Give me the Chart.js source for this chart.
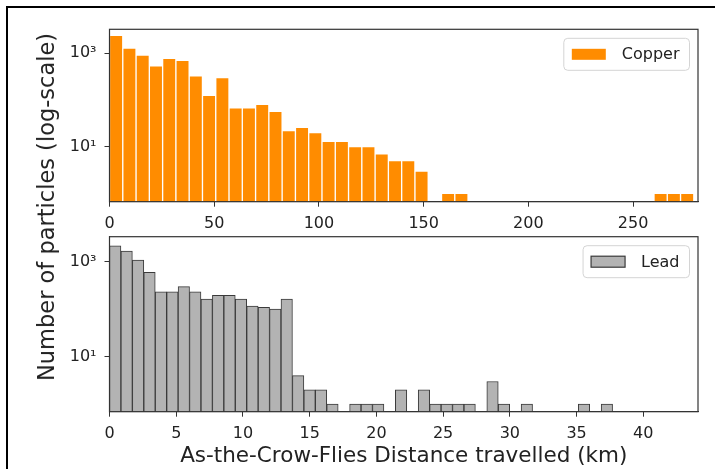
<!DOCTYPE html>
<html><head><meta charset="utf-8">
<script src="https://cdn.jsdelivr.net/npm/chart.js@4.4.1/dist/chart.umd.min.js"></script>
<style>
html,body{margin:0;padding:0;background:#fff;overflow:hidden;width:715px;height:469px;}
#frame{position:absolute;left:6px;top:6px;width:800px;height:600px;border:2px solid #000;box-sizing:border-box;}
canvas{position:absolute;left:0;top:0;}
#ytitle{position:absolute;left:46px;top:207px;transform:translate(-50%,-50%) rotate(-90deg);font:22.5px "DejaVu Sans";color:#222;white-space:nowrap;}
</style></head><body>
<div id="frame"></div>
<canvas id="c1" width="715" height="469"></canvas>
<canvas id="c2" width="715" height="469"></canvas>
<div id="ytitle">Number of particles (log-scale)</div>
<script>
// ---- data ----
const copperBinWidth = 6.341;   // km per bin (44 bins, 0..279)
const copperCounts = [2430,1300,920,542,782,708,327,126,300,68,68,81,57,22,26,20,13,13,10,10,7,5,5,3,
  null,1,1,null,null,null,null,null,null,null,null,null,null,null,null,null,null,1,1,1];
const leadBinWidth = 0.8568;    // km per bin (44 bins, 0..37.7)
const leadCounts = [2170,1680,1085,598,233,233,298,233,164,196,196,164,117,110,100,164,4,2,2,1,
  null,1,1,1,null,2,null,2,1,1,1,1,null,3,1,null,1,null,null,null,null,1,null,1];
const copperXTicks = [0,50,100,150,200,250];
const leadXTicks = [0,5,10,15,20,25,30,35,40];
const yTickValues = [10,1000];
const yTickLabels = ['10\u00B9','10\u00B3'];

const FONT = '"DejaVu Sans", sans-serif';
const TXT = '#222';
const AX = '#333';

const framePlugin = {
  id:'frame',
  afterDraw(chart){
    const {ctx, chartArea:a} = chart;
    ctx.save(); ctx.strokeStyle = AX; ctx.lineWidth = 1.2;
    ctx.strokeRect(a.left, a.top, a.right-a.left, a.bottom-a.top);
    ctx.restore();
  }
};
const boxLegend = {
  id:'boxLegend',
  afterDraw(chart){
    const {ctx, chartArea:a} = chart;
    const ds = chart.data.datasets[0];
    ctx.save();
    ctx.font = '16px ' + FONT;
    const tw = ctx.measureText(ds.label).width;
    const w = 8 + 34 + 16 + tw + 10, h = 32;
    const x = a.right - 8.5 - w, y = a.top + 9;
    ctx.beginPath();
    ctx.roundRect(x, y, w, h, 4);
    ctx.fillStyle = 'rgba(255,255,255,0.85)'; ctx.fill();
    ctx.strokeStyle = '#d4d4d4'; ctx.lineWidth = 1; ctx.stroke();
    ctx.fillStyle = ds.backgroundColor;
    ctx.fillRect(x + 8, y + h/2 - 5.5, 34, 11);
    if (ds.borderColor !== '#ffffff') {
      ctx.strokeStyle = ds.borderColor; ctx.lineWidth = 1.2;
      ctx.strokeRect(x + 8, y + h/2 - 5.5, 34, 11);
    }
    ctx.fillStyle = TXT; ctx.textBaseline = 'middle'; ctx.textAlign = 'left';
    ctx.fillText(ds.label, x + 58, y + h/2 + 1);
    ctx.restore();
  }
};

function binsToPoints(counts, bw){
  return counts.map((c,i)=>({x:(i+0.5)*bw, y:c}));
}

function makeChart(id, cfg){
  return new Chart(document.getElementById(id), {
    type:'bar',
    data:{datasets:[{
      label:cfg.label,
      data:binsToPoints(cfg.counts, cfg.bw),
      backgroundColor:cfg.fill,
      borderColor:cfg.edge,
      borderWidth:1,
      borderSkipped:'bottom',
      barPercentage:1, categoryPercentage:1, grouped:false
    }]},
    options:{
      responsive:false, animation:false,
      layout:{padding:cfg.padding},
      plugins:{legend:{display:false}, tooltip:{enabled:false}},
      scales:{
        x:{
          type:'linear', min:0, max:cfg.xmax, offset:false,
          grid:{offset:false, drawOnChartArea:false, drawTicks:true, tickLength:5, color:AX, lineWidth:1},
          border:{display:true, color:AX, width:1},
          ticks:{font:{family:FONT,size:16}, color:TXT, padding:cfg.tpad, maxRotation:0, autoSkip:false},
          title:cfg.xtitle ? {display:true, text:cfg.xtitle, font:{family:FONT,size:21.5}, color:TXT, padding:{top:0,bottom:0}} : {display:false},
          afterBuildTicks:s=>{ s.ticks = cfg.xticks.map(v=>({value:v})); },
          afterFit:s=>{ s.height = cfg.xh; }
        },
        y:{
          type:'logarithmic', min:cfg.ymin, max:cfg.ymax,
          grid:{drawOnChartArea:false, drawTicks:true, tickLength:5, color:AX, lineWidth:1},
          border:{display:true, color:AX, width:1},
          ticks:{font:{family:FONT,size:16}, color:TXT, padding:8, autoSkip:false,
            callback:(v)=>{ const k = yTickValues.indexOf(v); return k>=0 ? yTickLabels[k] : ''; }},
          afterBuildTicks:s=>{ s.ticks = yTickValues.map(v=>({value:v})); },
          afterFit:s=>{ s.width = 109.5; }
        }
      }
    },
    plugins:[framePlugin, boxLegend]
  });
}

makeChart('c1', {label:'Copper', counts:copperCounts, bw:copperBinWidth, fill:'#ff8c00', edge:'#ffffff',
  xmax:281, xticks:copperXTicks, xh:33.3, ymin:0.66, ymax:3268, tpad:8,
  padding:{left:0, top:29.3, right:17, bottom:234}});
makeChart('c2', {label:'Lead', counts:leadCounts, bw:leadBinWidth, fill:'#b3b3b3', edge:'#3a3a3a',
  xmax:44.1, xticks:leadXTicks, xh:57.3, ymin:0.695, ymax:3360, tpad:8, xtitle:'As-the-Crow-Flies Distance travelled (km)',
  padding:{left:0, top:236.7, right:17, bottom:0}});
</script>
</body></html>
